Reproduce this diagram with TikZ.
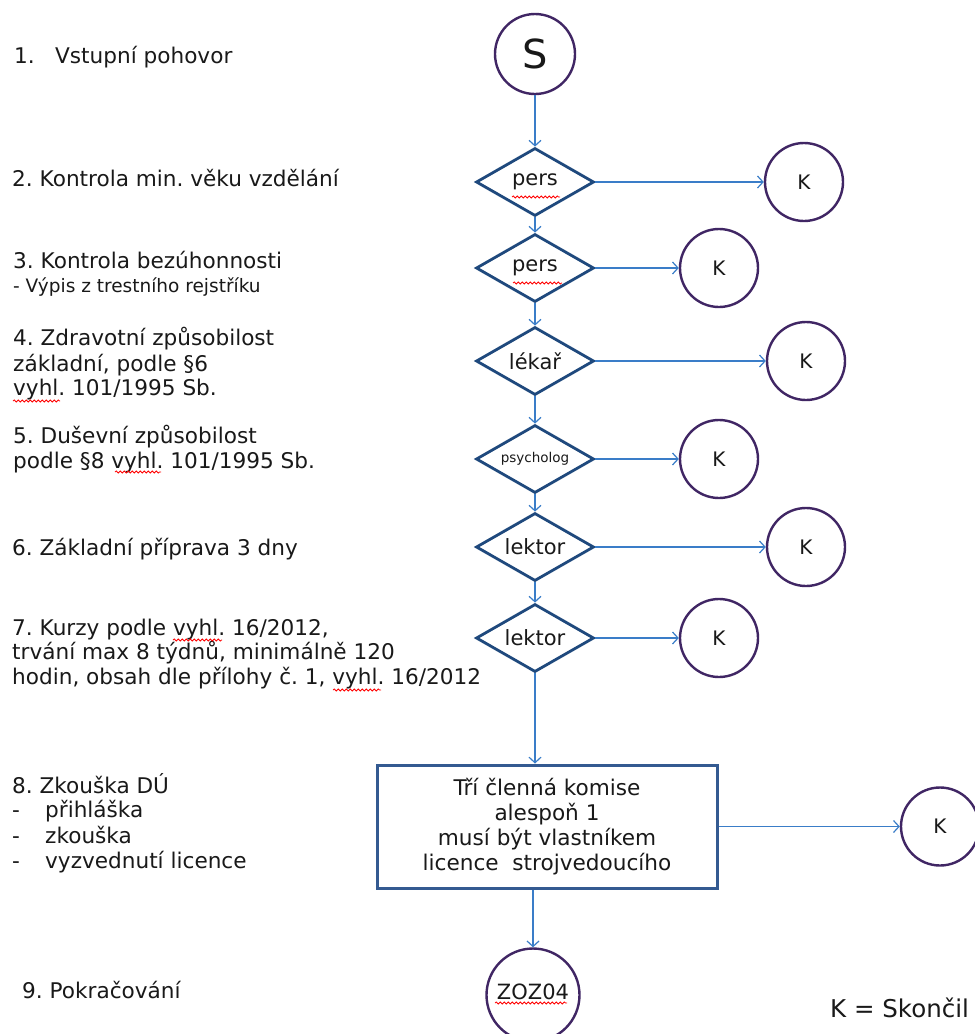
\documentclass[tikz,border=0pt]{standalone}
\usepackage{fontspec}
\setmainfont{DejaVu Sans}
\frenchspacing
\usetikzlibrary{shapes.geometric,arrows.meta,decorations.pathmorphing}
\definecolor{arrowblue}{RGB}{58,125,200}
\definecolor{dianavy}{RGB}{31,73,125}
\definecolor{rectblue}{RGB}{52,90,145}
\definecolor{circpurple}{RGB}{64,38,100}
\definecolor{txt}{RGB}{25,25,25}
\begin{document}
\begin{tikzpicture}[x=1pt,y=-1pt,
  decbox/.style={diamond, draw=dianavy, line width=2.8pt, minimum width=118pt, minimum height=68pt, inner sep=0pt, aspect=1.7, text=txt, font=\fontsize{21}{24}\selectfont},
  endc/.style={circle, draw=circpurple, line width=2.4pt, minimum size=78pt, inner sep=0pt, text=txt, font=\fontsize{20}{24}\selectfont},
  flow/.style={draw=arrowblue, line width=1.2pt, -{Straight Barb[length=5.5pt,width=12pt]}},
  lt/.style={anchor=base west, inner sep=0pt, text=txt, font=\fontsize{21.6}{24.5}\selectfont},
  wavy/.style={draw=red, line width=0.8pt, decorate, decoration={snake, amplitude=1pt, segment length=4pt}}
]
\useasboundingbox (0,0) rectangle (975,1034);
\fill[white] (0,0) rectangle (975,1034);

% flow nodes
\node[endc, minimum size=80pt, font=\fontsize{40}{44}\selectfont] (S) at (535,54) {S};
\node[decbox] (d1) at (535,182) {pers};
\node[decbox] (d2) at (535,268) {pers};
\node[decbox] (d3) at (535,361) {lékař};
\node[decbox, font=\fontsize{13.5}{16}\selectfont] (d4) at (535,459) {psycholog};
\node[decbox] (d5) at (535,547) {lektor};
\node[decbox] (d6) at (535,638) {lektor};
\node[draw=rectblue, line width=3pt, minimum width=340pt, minimum height=123pt, align=center, inner sep=0pt,
      font=\fontsize{21.6}{25}\selectfont, text=txt] (box) at (547,826.5)
      {\raisebox{-3pt}{\parbox{300pt}{\centering Tří členná komise\\alespoň 1\\musí být vlastníkem\\licence\ \ strojvedoucího}}};
\node[endc, minimum size=93pt, font=\fontsize{21}{24}\selectfont] (z) at (533,995) {\raisebox{6.5pt}{ZOZ04}};

\node[endc] (k1) at (804,182) {K};
\node[endc] (k2) at (719,268) {K};
\node[endc] (k3) at (806,361) {K};
\node[endc] (k4) at (719,459) {K};
\node[endc] (k5) at (806,547) {K};
\node[endc] (k6) at (719,638) {K};
\node[endc] (k7) at (940,826.5) {K};

% connectors
\draw[flow] (S) -- (d1);
\draw[flow] (d1) -- (d2);
\draw[flow] (d2) -- (d3);
\draw[flow] (d3) -- (d4);
\draw[flow] (d4) -- (d5);
\draw[flow] (d5) -- (d6);
\draw[flow] (d6.south) -- (d6.south |- box.north);
\draw[flow] (z.north |- box.south) -- (z.north);
\draw[flow] (d1.east) -- (k1.west);
\draw[flow] (d2.east) -- (k2.west);
\draw[flow] (d3.east) -- (k3.west);
\draw[flow] (d4.east) -- (k4.west);
\draw[flow] (d5.east) -- (k5.west);
\draw[flow] (d6.east) -- (k6.west);
\draw[flow] (box.east) -- (k7.west);

% left texts
\node[lt] (t1) at (14,63) {\makebox[41pt][l]{1.}Vstupní pohovor};
\node[lt] (t2) at (12,186) {2. Kontrola min. věku vzdělání};
\node[lt] (t3a) at (13,268) {3. Kontrola bezúhonnosti};
\node[lt, font=\fontsize{18.5}{20}\selectfont] (t3b) at (13,292) {- Výpis z trestního rejstříku};
\node[lt] (t4a) at (13,345) {4. Zdravotní způsobilost};
\node[lt] (t4b) at (13,371) {základní, podle §6};
\node[lt] (t4c) at (13,395) {vyhl. 101/1995 Sb.};
\node[lt] (t5a) at (13,443) {5. Duševní způsobilost};
\node[lt] (t5b) at (13,468) {podle §8 vyhl. 101/1995 Sb.};
\node[lt] (t6) at (12,555) {6. Základní příprava 3 dny};
\node[lt] (t7a) at (12,635) {7. Kurzy podle vyhl. 16/2012,};
\node[lt] (t7b) at (12,659) {trvání max 8 týdnů, minimálně 120};
\node[lt] (t7c) at (12,684) {hodin, obsah dle přílohy č. 1, vyhl. 16/2012};
\node[lt] (t8a) at (12,793) {8. Zkouška DÚ};
\node[lt] (t8b) at (12,817) {\makebox[33pt][l]{-}přihláška};
\node[lt] (t8c) at (12,843) {\makebox[33pt][l]{-}zkouška};
\node[lt] (t8d) at (12,868) {\makebox[33pt][l]{-}vyzvednutí licence};
\node[lt] (t9) at (22,998) {9. Pokračování};
\node[lt, font=\fontsize{24.5}{28}\selectfont] (leg) at (830,1017) {K = Skončil};

% spell-check underlines
\draw[wavy] (512,197) -- (560,197);
\draw[wavy] (513,283) -- (562,283);
\draw[wavy] (13,401) -- (60,401);
\draw[wavy] (115,472) -- (161,472);
\draw[wavy] (173,640) -- (222,640);
\draw[wavy] (333,690) -- (381,690);
\draw[wavy] (495,1003) -- (567,1003);
\end{tikzpicture}
\end{document}
